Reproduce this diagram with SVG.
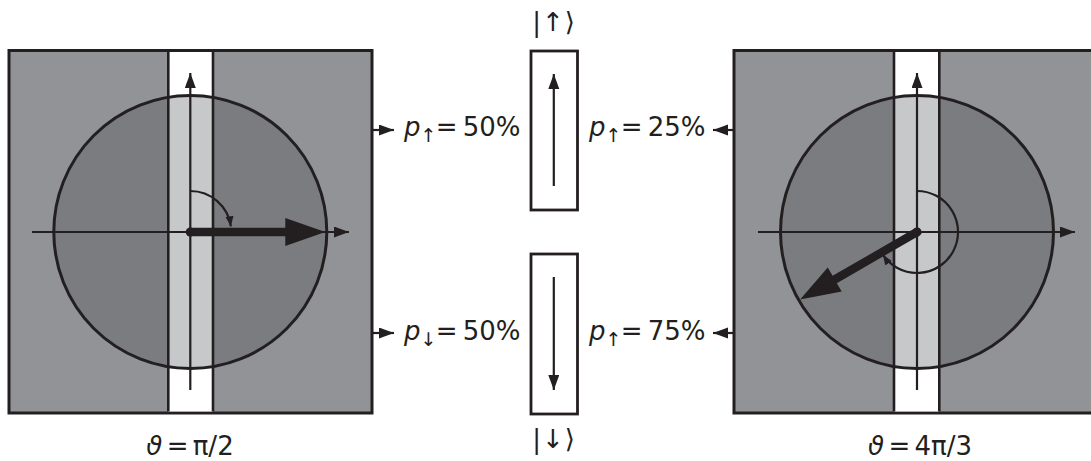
<svg xmlns="http://www.w3.org/2000/svg" width="1091" height="461" viewBox="0 0 1091 461">
<style>
.panel{fill:#929397;stroke:#231f20;stroke-width:3}
.disc{fill:#7b7c7f}
.ring{fill:none;stroke:#231f20;stroke-width:3}
.strip{fill:#ffffff}
.stripin{fill:#c7c8ca}
.sline{stroke:#231f20;stroke-width:2.6}
.axis{stroke:#231f20;stroke-width:2.2;fill:none}
.arc{stroke:#231f20;stroke-width:2.2;fill:none}
.box{fill:#ffffff;stroke:#231f20;stroke-width:2.8}
.lbl{font-family:"DejaVu Sans",Verdana,sans-serif;font-size:26px;fill:#231f20;word-spacing:-3px}
.cap{word-spacing:-4px}
.sub{font-size:19px;letter-spacing:-6px}
.ket{font-family:"DejaVu Sans",Verdana,sans-serif;font-size:26px;fill:#231f20;letter-spacing:1px}
.thick{fill:#231f20}
</style>
<defs>
<marker id="ah" markerUnits="userSpaceOnUse" markerWidth="16" markerHeight="12" refX="15" refY="5.5" orient="auto">
<path d="M0,0 L15,5.5 L0,11 Z" fill="#231f20"/>
</marker>
<marker id="ahs" markerUnits="userSpaceOnUse" markerWidth="12" markerHeight="10" refX="10" refY="4" orient="auto">
<path d="M0,0 L10,4 L0,8 Z" fill="#231f20"/>
</marker>
<clipPath id="cl"><circle cx="190.3" cy="232" r="136.5"/></clipPath>
<clipPath id="cr"><circle cx="917" cy="232" r="136.5"/></clipPath>
<g id="bigarrow">
<path class="thick" d="M0,-4.2 L95,-4.2 L95,-14 L135,0 L95,14 L95,4.2 L0,4.2 Z"/>
<circle class="thick" cx="0" cy="0" r="4.6"/>
</g>
</defs>

<g id="panel-left">
<rect class="panel" x="9" y="50.5" width="363" height="362.5"/>
<circle class="disc" cx="190.3" cy="232" r="136.5"/>
<rect class="strip" x="168.3" y="52" width="44.7" height="359.5"/>
<rect class="stripin" x="168.3" y="52" width="44.7" height="359.5" clip-path="url(#cl)"/>
<line class="sline" x1="168.3" y1="52" x2="168.3" y2="411.5"/>
<line class="sline" x1="213" y1="52" x2="213" y2="411.5"/>
<circle class="ring" cx="190.3" cy="232" r="136.5"/>
<line class="axis" x1="32" y1="232" x2="349" y2="232" marker-end="url(#ah)"/>
<line class="axis" x1="190.3" y1="390" x2="190.3" y2="73" marker-end="url(#ah)"/>
<path class="arc" d="M190.3,191 A41,41 0 0 1 230.9,226.3" marker-end="url(#ahs)"/>
<use href="#bigarrow" transform="translate(190.3,232)"/>
<text class="lbl cap" x="190" y="455" text-anchor="middle"><tspan font-style="italic">ϑ</tspan> = π/2</text>
</g>

<g id="panel-right">
<rect class="panel" x="734" y="50.5" width="370" height="362.5"/>
<circle class="disc" cx="917" cy="232" r="136.5"/>
<rect class="strip" x="894" y="52" width="45.3" height="359.5"/>
<rect class="stripin" x="894" y="52" width="45.3" height="359.5" clip-path="url(#cr)"/>
<line class="sline" x1="894" y1="52" x2="894" y2="411.5"/>
<line class="sline" x1="939.3" y1="52" x2="939.3" y2="411.5"/>
<circle class="ring" cx="917" cy="232" r="136.5"/>
<line class="axis" x1="758" y1="232" x2="1075" y2="232" marker-end="url(#ah)"/>
<line class="axis" x1="917" y1="390" x2="917" y2="73" marker-end="url(#ah)"/>
<path class="arc" d="M917,191 A41,41 0 1 1 883,254.9" marker-end="url(#ahs)"/>
<use href="#bigarrow" transform="translate(917,232) rotate(150)"/>
<text class="lbl cap" x="920" y="455" text-anchor="middle"><tspan font-style="italic">ϑ</tspan> = 4π/3</text>
</g>

<g id="box-up">
<rect class="box" x="531" y="51" width="46.5" height="159"/>
<line class="axis" x1="553.8" y1="186" x2="553.8" y2="74" marker-end="url(#ah)"/>
<text class="ket" x="554" y="31" text-anchor="middle">|↑⟩</text>
</g>

<g id="box-down">
<rect class="box" x="531" y="254" width="46.5" height="160"/>
<line class="axis" x1="553.8" y1="277" x2="553.8" y2="390" marker-end="url(#ah)"/>
<text class="ket" x="554" y="448" text-anchor="middle">|↓⟩</text>
</g>

<g id="labels">
<text class="lbl" x="404" y="136"><tspan font-style="italic">p</tspan><tspan class="sub" dy="6">↑</tspan><tspan dy="-6"> = 50%</tspan></text>
<text class="lbl" x="404" y="340"><tspan font-style="italic">p</tspan><tspan class="sub" dy="6">↓</tspan><tspan dy="-6"> = 50%</tspan></text>
<text class="lbl" x="589" y="136"><tspan font-style="italic">p</tspan><tspan class="sub" dy="6">↑</tspan><tspan dy="-6"> = 25%</tspan></text>
<text class="lbl" x="589" y="340"><tspan font-style="italic">p</tspan><tspan class="sub" dy="6">↑</tspan><tspan dy="-6"> = 75%</tspan></text>
</g>

<g id="connectors">
<line class="axis" x1="372" y1="130" x2="394" y2="130" marker-end="url(#ah)"/>
<line class="axis" x1="372" y1="333" x2="394" y2="333" marker-end="url(#ah)"/>
<line class="axis" x1="734" y1="130" x2="713" y2="130" marker-end="url(#ah)"/>
<line class="axis" x1="734" y1="333" x2="713" y2="333" marker-end="url(#ah)"/>
</g>
</svg>
